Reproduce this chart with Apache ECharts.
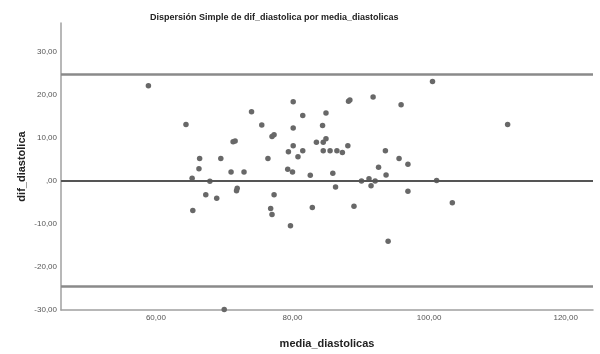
<!DOCTYPE html>
<html>
<head>
<meta charset="utf-8">
<script src="https://cdn.jsdelivr.net/npm/echarts@6/dist/echarts.min.js"></script>
<style>html,body{margin:0;padding:0;background:#fff}#c{width:600px;height:354px}</style>
</head>
<body>
<div id="c"></div>
<script>
const titleText = 'Dispersión Simple de dif_diastolica por media_diastolicas';
const xName = 'media_diastolicas';
const yName = 'dif_diastolica';
const mediaDiastolicas = [58.9,64.4,71.3,71.6,66.4,69.5,66.3,71.0,65.3,67.9,67.3,68.9,71.9,71.8,65.4,70.0,
  80.1,74.0,75.5,81.5,84.9,88.2,88.4,91.8,95.9,84.4,80.1,77.0,77.3,83.5,84.5,84.9,80.1,79.4,81.5,80.8,
  84.5,85.5,86.5,87.3,88.1,76.4,93.6,95.6,96.9,92.6,93.7,79.3,80.0,82.6,85.9,72.9,90.1,91.2,92.1,91.5,
  86.3,77.3,76.8,77.0,79.7,82.9,89.0,94.0,96.9,100.5,111.5,101.1,103.4];
const difDiastolica = [22.1,13.1,9.1,9.3,5.2,5.2,2.8,2.1,0.6,-0.1,-3.2,-4.0,-1.7,-2.3,-6.9,-29.9,
  18.4,16.1,13.0,15.2,15.8,18.5,18.8,19.5,17.7,12.9,12.3,10.3,10.7,9.0,9.0,9.8,8.2,6.8,7.0,5.6,
  7.0,7.0,7.0,6.6,8.2,5.2,7.0,5.2,3.9,3.2,1.4,2.7,2.1,1.3,1.8,2.1,0.0,0.5,0.0,-1.1,
  -1.4,-3.2,-6.4,-7.8,-10.4,-6.2,-5.9,-14.0,-2.4,23.1,13.1,0.1,-5.1];
const limitValues = [24.8, 0, -24.5];
const xTicks = [60, 80, 100, 120];
const yTicks = [-30, -20, -10, 0, 10, 20, 30];

function fmt(v){
  const s = Math.abs(v).toFixed(2).replace('.', ',');
  const t = (Math.abs(v) < 1 ? s.replace(/^0/, '') : s);
  return (v < 0 ? '-' : '') + t;
}

const points = mediaDiastolicas.map((x, i) => [x, difDiastolica[i]]);
const chart = echarts.init(document.getElementById('c'), null, {renderer: 'canvas'});
const FF = 'Liberation Sans, Arial, sans-serif';
chart.setOption({
  animation: false,
  backgroundColor: '#ffffff',
  title: {
    text: titleText, left: 145, top: 8,
    textStyle: {fontFamily: FF, fontSize: 9, fontWeight: 'bold', color: '#222'}
  },
  grid: {left: 61, right: 7, top: 23, bottom: 43, containLabel: false},
  xAxis: {
    type: 'value', min: 46.1, max: 124.0,
    name: xName, nameLocation: 'middle', nameGap: 28,
    nameTextStyle: {fontFamily: FF, fontSize: 11, fontWeight: 'bold', color: '#222'},
    splitLine: {show: false},
    axisTick: {show: false},
    axisLine: {show: true, onZero: false, lineStyle: {color: '#a0a0a0', width: 1.5}},
    axisLabel: {customValues: xTicks, formatter: fmt, fontFamily: FF, fontSize: 8, color: '#555', margin: 4}
  },
  yAxis: {
    type: 'value', min: -30, max: 36.7,
    name: yName, nameLocation: 'middle', nameGap: 34, nameRotate: 90, nameMoveOverlap: false,
    nameTextStyle: {fontFamily: FF, fontSize: 11, fontWeight: 'bold', color: '#222'},
    splitLine: {show: false},
    axisTick: {show: false},
    axisLine: {show: true, onZero: false, lineStyle: {color: '#a0a0a0', width: 1.5}},
    axisLabel: {customValues: yTicks, formatter: fmt, fontFamily: FF, fontSize: 8, color: '#555', margin: 4}
  },
  series: [{
    type: 'scatter',
    data: points,
    symbolSize: 5.5,
    itemStyle: {color: '#686868', opacity: 1},
    markLine: {
      silent: true, symbol: 'none', label: {show: false},
      data: limitValues.map((v, i) => ({
        yAxis: v,
        lineStyle: {type: 'solid', color: i === 1 ? '#555555' : '#8a8a8a', width: i === 1 ? 2 : 2.5}
      }))
    },
    z: 3
  }]
});
</script>
</body>
</html>
